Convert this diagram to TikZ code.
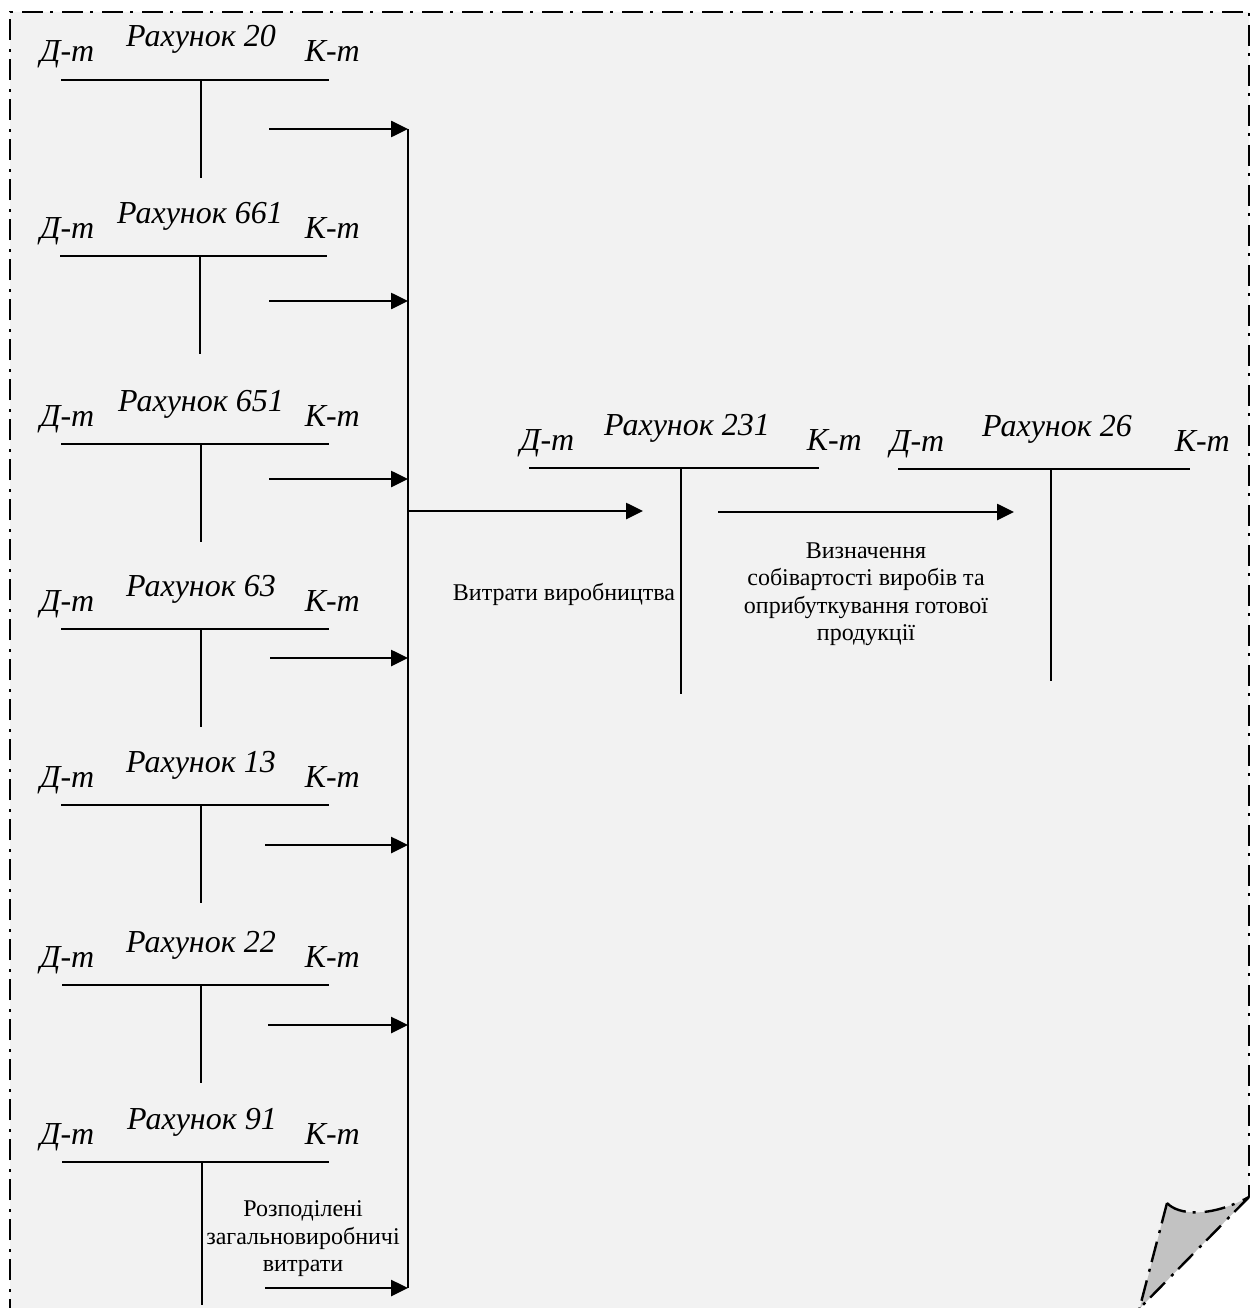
\documentclass[tikz,border=0pt]{standalone}
\usepackage{fontspec}
\setmainfont{Liberation Serif}
\usetikzlibrary{arrows.meta}
\definecolor{pagebg}{RGB}{242,242,242}
\definecolor{flapgray}{RGB}{194,194,194}
\tikzset{
  acct/.style={font=\fontsize{32}{38}\selectfont\itshape, inner sep=0pt},
  note/.style={font=\fontsize{24}{27.5}\selectfont, align=center, inner sep=0pt},
  tline/.style={line width=2pt},
  flow/.style={line width=2.6pt, -{Triangle[length=17pt,width=16pt]}},
  pageedge/.style={line width=2.4pt, dash pattern=on 21pt off 7pt on 3pt off 9pt},
}
\def\tx{0}
% T-account: #1 name, #2 number, #3 rule left, #4 rule right, #5 stem x,
% #6 rule y, #7 stem bottom, #8 left edge of debit label, #9 right edge of credit label
\newcommand\tacct[9]{%
  \coordinate (#1-l) at (#3,#6);
  \coordinate (#1-r) at (#4,#6);
  \coordinate (#1-top) at (#5,#6);
  \coordinate (#1-bot) at (#5,#7);
  \node[acct, anchor=base] (#1-title) at ({\tx+#5},{#6-33}) {Рахунок #2};
  \node[acct, anchor=base west] (#1-dt) at (#8,{#6-18}) {Д-т};
  \node[acct, anchor=base east] (#1-kt) at (#9,{#6-18}) {К-т};
  \draw[tline] (#1-l) -- (#1-r);
  \draw[tline] (#1-top) -- (#1-bot);
}
\begin{document}
\begin{tikzpicture}[x=1pt,y=-1pt]
\useasboundingbox (0,0) rectangle (1250,1308);
\fill[white] (0,0) rectangle (1250,1308);
\begin{scope}
  \clip (0,0) rectangle (1250,1308);
  % sheet
  \fill[pagebg] (10,12) -- (1249,12) -- (1249,1197) -- (1140,1308) -- (10,1308) -- cycle;
  \draw[pageedge] (10,1320) -- (10,12) -- (1249,12) -- (1249,1197);
  % turned-up corner
  \fill[flapgray] (1167,1203) .. controls (1178,1215) and (1210,1218) .. (1249,1197)
        -- (1140,1308) -- cycle;
  \draw[pageedge] (1167,1203) .. controls (1178,1215) and (1210,1218) .. (1249,1197);
  \draw[pageedge] (1249,1197) -- (1134,1314);
  \draw[pageedge] (1167,1203) -- (1137,1318);
\end{scope}

% source accounts
\tacct{a20}{20}{61}{329}{201}{80}{178}{40}{360}
\tacct{a661}{661}{60}{327}{200}{256}{354}{40}{360}
\tacct{a651}{651}{61}{329}{201}{444}{542}{40}{360}
\tacct{a63}{63}{61}{329}{201}{629}{727}{40}{360}
\tacct{a13}{13}{61}{329}{201}{805}{903}{40}{360}
\tacct{a22}{22}{62}{329}{201}{985}{1083}{40}{360}
\tacct{a91}{91}{62}{329}{202}{1162}{1305}{40}{360}

% production and finished goods accounts
\def\tx{6}
\tacct{a231}{231}{529}{819}{681}{468}{694}{520}{862}
\tacct{a26}{26}{898}{1190}{1051}{469}{681}{890}{1230}

% collecting bus
\coordinate (bus1) at (408,129);
\coordinate (bus2) at (408,301);
\coordinate (bus3) at (408,479);
\coordinate (bus4) at (408,658);
\coordinate (bus5) at (408,845);
\coordinate (bus6) at (408,1025);
\coordinate (bus7) at (408,1288);
\coordinate (busout) at (408,511);
\draw[tline] (bus1) -- (bus7);

\coordinate (s1) at (269,129);
\coordinate (s2) at (269,301);
\coordinate (s3) at (269,479);
\coordinate (s4) at (270,658);
\coordinate (s5) at (265,845);
\coordinate (s6) at (268,1025);
\coordinate (s7) at (265,1288);
\foreach \i in {1,...,7} \draw[flow] (s\i) -- (bus\i);

\coordinate (in231) at (643,511);
\draw[flow] (busout) -- (in231);
\coordinate (out231) at (718,512);
\coordinate (in26) at (1014,512);
\draw[flow] (out231) -- (in26);

% captions
\node[note, anchor=base] (costs) at (564,600) {Витрати виробництва};
\node[note] (valuation) at (866,594) {Визначення\\собівартості виробів та\\оприбуткування готової\\продукції};
\node[note] (overhead) at (303,1239) {Розподілені\\загальновиробничі\\витрати};
\end{tikzpicture}
\end{document}
